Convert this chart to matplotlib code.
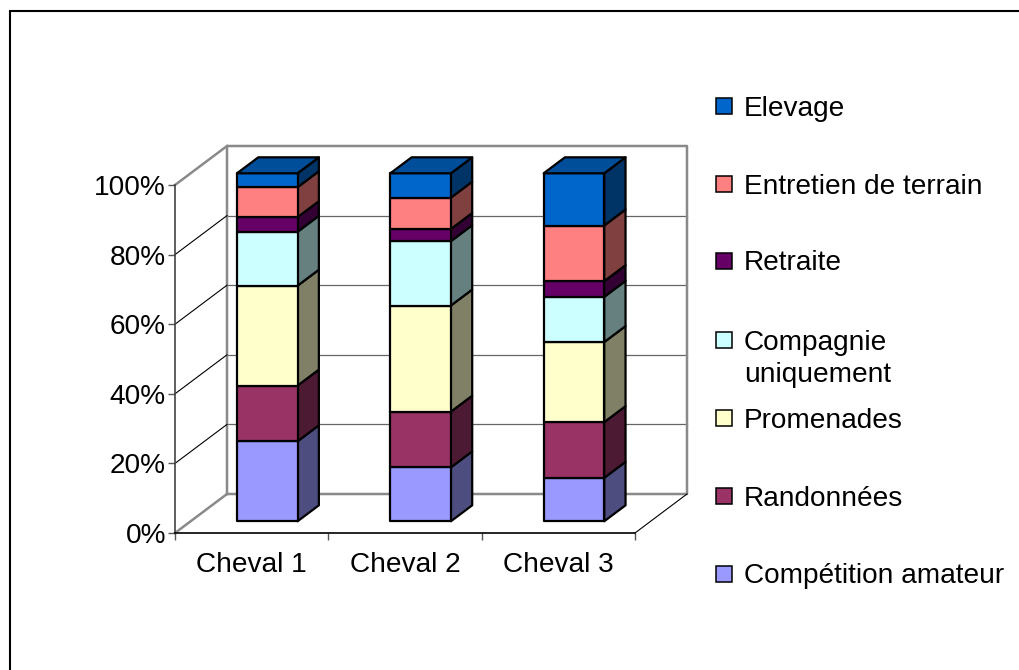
import matplotlib
matplotlib.use("Agg")
import matplotlib.pyplot as plt
from matplotlib.patches import Polygon, Rectangle
from matplotlib.ticker import PercentFormatter

plt.rcParams['font.family'] = ['Liberation Sans', 'DejaVu Sans']

categories = ["Cheval 1", "Cheval 2", "Cheval 3"]
competition = [23, 15.5, 12.5]
randonnees = [16, 16, 16]
promenades = [28.7, 30.5, 23]
compagnie = [15.5, 18.5, 13]
retraite = [4.2, 3.5, 4.5]
entretien = [8.6, 9, 16]
elevage = [4, 7, 15]

series_names = ["Compétition amateur", "Randonnées", "Promenades",
                "Compagnie\nuniquement", "Retraite", "Entretien de terrain", "Elevage"]
series_values = [competition, randonnees, promenades, compagnie, retraite, entretien, elevage]
front_colors = ["#9999FF", "#993366", "#FFFFCC", "#CCFFFF", "#660066", "#FF8080", "#0066CC"]
side_colors = ["#4D4D80", "#4D1A33", "#808066", "#668080", "#330033", "#804040", "#003366"]
top_colors = ["#7373BF", "#73264D", "#BFBF99", "#99BFBF", "#4D004D", "#BF6060", "#004D99"]
legend_centres = [573.5, 496, 418, 340, 261, 184, 106]

FS = 20.2
W, H = 1020, 670
fig = plt.figure(figsize=(W / 100, H / 100), dpi=100)

# Page layer in pixel coordinates: frame (top and left only) and legend
page = fig.add_axes([0, 0, 1, 1], zorder=0)
page.set_xlim(0, W)
page.set_ylim(H, 0)
page.axis("off")
page.plot([10.5, 10.5, W], [H, 11, 11], color="black", lw=1.5, solid_joinstyle="miter")
for name, colour, yc in zip(series_names, front_colors, legend_centres):
    page.add_patch(Rectangle((716.5, yc - 8), 16, 16, fc=colour, ec="black", lw=1.1))
    for i, part in enumerate(name.split("\n")):
        page.text(744, yc + i * 33 - 0.5, part, fontsize=FS, va="center_baseline", ha="left", color="black")

# Chart: front plane of the 3-D box
ax = fig.add_axes([175 / W, 1 - 533 / H, 460 / W, 348 / H], zorder=1)
ax.patch.set_alpha(0)
ax.set_xlim(0, 3)
ax.set_ylim(0, 100)

DX = 52 / (460 / 3)      # full box depth, in x data units
DY = 39 / 3.48           # full box depth, in y data units
BAR_W = 0.395
BAR_D0, BAR_D1 = 0.30, 0.71


def proj(x, y, d):
    return (x + d * DX, y + d * DY)


def line(pts, color, lw, z=1):
    ax.plot([p[0] for p in pts], [p[1] for p in pts], color=color, lw=lw,
            clip_on=False, zorder=z, solid_capstyle="projecting")


GREY = "#8A8A8A"
# walls and floor
for t in [20, 40, 60, 80]:
    line([proj(3, t, 1), proj(0, t, 1)], "#666666", 0.9)
    line([proj(0, t, 1), proj(0, t, 0)], "black", 0.8, 1.1)
line([proj(0, 0, 0), proj(0, 0, 1), proj(3, 0, 1), proj(3, 100, 1), proj(0, 100, 1), proj(0, 0, 1)], GREY, 1.8)
line([proj(0, 100, 0), proj(0, 100, 1)], GREY, 1.8)
line([proj(3, 0, 0), proj(3, 0, 1)], "black", 0.8)

# stacked 3-D bars
for i in range(len(categories)):
    left = i + 0.5 - BAR_W / 2
    right = i + 0.5 + BAR_W / 2
    base = 0
    for s, values in enumerate(series_values):
        top = base + values[i]
        z = 3 + s * 0.1 + i
        kw = dict(ec="black", lw=1.6, joinstyle="round", clip_on=False, zorder=z)
        ax.add_patch(Polygon([proj(right, base, BAR_D0), proj(right, base, BAR_D1),
                              proj(right, top, BAR_D1), proj(right, top, BAR_D0)],
                             fc=side_colors[s], **kw))
        ax.add_patch(Polygon([proj(left, base, BAR_D0), proj(right, base, BAR_D0),
                              proj(right, top, BAR_D0), proj(left, top, BAR_D0)],
                             fc=front_colors[s], **kw))
        if s == len(series_values) - 1:
            ax.add_patch(Polygon([proj(left, top, BAR_D0), proj(right, top, BAR_D0),
                                  proj(right, top, BAR_D1), proj(left, top, BAR_D1)],
                                 fc=top_colors[s], **kw))
        base = top

# axes furniture
for side in ("top", "right"):
    ax.spines[side].set_visible(False)
ax.spines["left"].set_linewidth(1.2)
ax.spines["left"].set_color("#444444")
ax.spines["bottom"].set_linewidth(1.2)
ax.set_yticks([0, 20, 40, 60, 80, 100])
ax.yaxis.set_major_formatter(PercentFormatter(100, decimals=0))
ax.tick_params(axis="y", length=5, width=1.0, color="#555555", pad=1.5, labelsize=FS)
ax.set_xticks([0.5 + i for i in range(len(categories))])
ax.set_xticklabels(categories)
ax.set_xticks([0, 1, 2, 3], minor=True)
ax.tick_params(axis="x", which="major", length=0, pad=14, labelsize=FS)
ax.tick_params(axis="x", which="minor", length=5, width=1.0, color="#555555")

fig.savefig("out.png", dpi=100)
